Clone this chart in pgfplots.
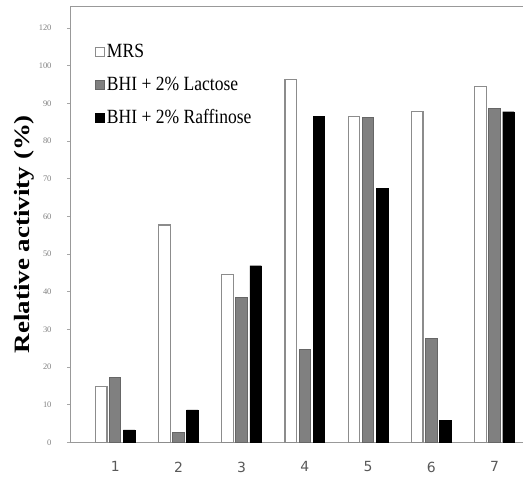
\documentclass[border=0pt]{standalone}
\usepackage{pgfplots}
\pgfplotsset{compat=1.18}
\usepackage{fontspec}
\setmainfont{Liberation Serif}
\newfontfamily\tickfont{DejaVu Sans}
\begin{document}
\begin{tikzpicture}
\useasboundingbox (-71bp,-40.7bp) rectangle (452bp,442.3bp);
\clip (-71bp,-40.7bp) rectangle (452bp,442.3bp);
\begin{axis}[
 at={(0,0)}, anchor=south west,
 scale only axis, width=467.7bp, height=435.6bp,
 xmin=0.3, xmax=7.7, ymin=0, ymax=115.7,
 ybar, bar width=11.5bp,
 /pgf/number format/assume math mode=true,
 xtick={1,...,7}, major x tick style={draw=none},
 ytick={0,10,...,110}, yticklabels={0,10,20,30,40,50,60,70,80,90,100,120},
 ytick pos=left, tick align=outside, major tick length=4bp,
 axis line style={gray!80, line width=1bp},
 y tick style={gray!70, line width=0.8bp},
 xticklabel style={font=\tickfont\fontsize{14}{16}\selectfont, text=gray!70!black, yshift=-12bp},
 yticklabel style={font=\fontsize{8.5}{9}\selectfont, text=gray, xshift=-12bp},
 ylabel={\scalebox{1.23}[1]{\fontsize{22}{24}\selectfont\bfseries Relative activity (\%)}},
 ylabel style={at={(axis description cs:-0.1005,0.478)}, anchor=center},
 legend cell align=left,
 legend image code/.code={\draw[#1, line width=0.8bp] (0bp,-4bp) rectangle (9bp,5bp);},
 legend style={draw=none, fill=none, at={(axis description cs:0.0513,0.916)}, anchor=north west,
   font=\fontsize{17.6}{20}\selectfont, row sep=15bp, column sep=2bp, inner sep=0pt,
   nodes={inner sep=0pt, text height=14bp, text depth=4bp}},
]
\addplot[bar shift=-14bp, fill=white, draw=gray!90, line width=1.2bp] coordinates {(1,14.8)(2,57.7)(3,44.6)(4,96.3)(5,86.5)(6,87.8)(7,94.5)};
\addplot[bar shift=0bp, fill=gray, draw=black!60, line width=1bp] coordinates {(1,17.1)(2,2.6)(3,38.5)(4,24.7)(5,86.2)(6,27.5)(7,88.7)};
\addplot[bar shift=14bp, fill=black, draw=black] coordinates {(1,3.3)(2,8.6)(3,46.9)(4,86.5)(5,67.5)(6,5.9)(7,87.8)};
\legend{\scalebox{1}[1.15]{MRS},\scalebox{1}[1.15]{BHI + 2\% Lactose},\scalebox{1}[1.15]{BHI + 2\% Raffinose}}
\end{axis}
\end{tikzpicture}
\end{document}
